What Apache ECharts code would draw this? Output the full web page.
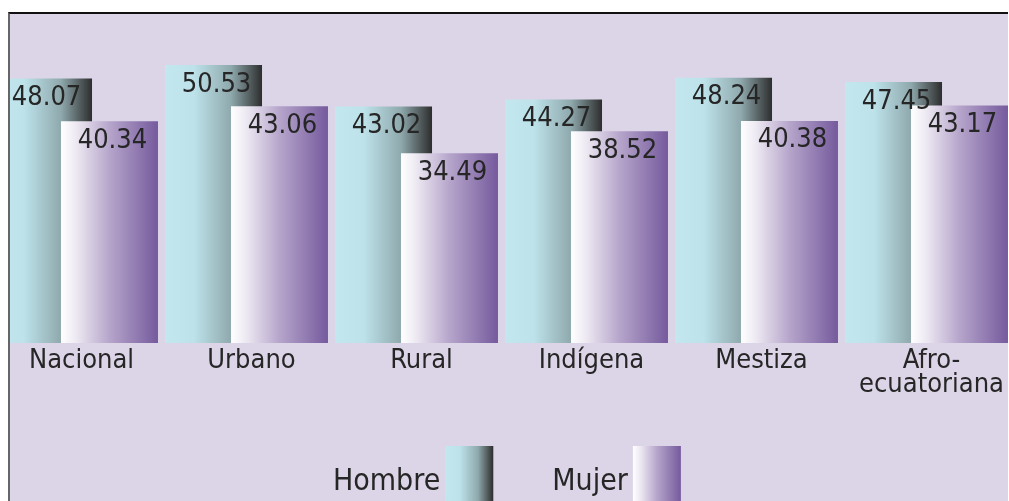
<!DOCTYPE html>
<html>
<head>
<meta charset="utf-8">
<script src="https://cdn.jsdelivr.net/npm/echarts@6/dist/echarts.min.js"></script>
<style>
  html, body { margin: 0; padding: 0; background: #fff; }
  #marco {
    position: absolute;
    left: 8px;
    top: 12px;
    width: 998px;
    height: 487px;
    border-left: 2px solid #666;
    border-top: 2px solid #111;
    background: #dcd4e7;
    overflow: hidden;
  }
  #chart {
    position: absolute;
    left: -19px;
    top: -1px;
    width: 1022px;
    height: 488px;
  }
</style>
</head>
<body>
<div id="marco"><div id="chart"></div></div>
<script>
// datos
const categorias = ['Nacional', 'Urbano', 'Rural', 'Indígena', 'Mestiza', 'Afro-\necuatoriana'];
const hombre = [48.07, 50.53, 43.02, 44.27, 48.24, 47.45];
const mujer = [40.34, 43.06, 34.49, 38.52, 40.38, 43.17];

const fuente = '"Liberation Sans Narrow", "DejaVu Sans Condensed", sans-serif';

const colorHombre = new echarts.graphic.LinearGradient(0, 0, 1, 0, [
  { offset: 0, color: '#c3e7ef' },
  { offset: 0.3, color: '#bde2ea' },
  { offset: 0.68, color: '#8fa9ad' },
  { offset: 1, color: '#2d2d2d' }
]);
const colorMujer = new echarts.graphic.LinearGradient(0, 0, 1, 0, [
  { offset: 0, color: '#ffffff' },
  { offset: 0.15, color: '#eeeaf3' },
  { offset: 0.5, color: '#b6a5cb' },
  { offset: 1, color: '#755a9d' }
]);

const etiqueta = {
  show: true,
  position: 'insideTop',
  distance: 6,
  offset: [3, 0],
  fontFamily: fuente,
  fontSize: 27,
  color: '#262626',
  formatter: p => p.value.toFixed(2)
};

const chart = echarts.init(document.getElementById('chart'));
chart.setOption({
  animation: false,
  backgroundColor: 'transparent',
  grid: {
    left: 0.5,
    right: 1.5,
    top: 0,
    bottom: 158
  },
  legend: {
    left: 337,
    top: 428,
    align: 'right',
    icon: 'rect',
    itemWidth: 48,
    itemHeight: 72,
    itemGap: 59,
    textStyle: {
      fontFamily: fuente,
      fontSize: 30,
      color: '#262626'
    },
    data: ['Hombre', 'Mujer']
  },
  xAxis: {
    type: 'category',
    data: categorias,
    axisLine: { show: false },
    axisTick: { show: false },
    axisLabel: {
      interval: 0,
      margin: 6,
      padding: [0, 0, 0, 10],
      fontFamily: fuente,
      fontSize: 27,
      lineHeight: 24,
      color: '#262626',
      verticalAlign: 'top'
    }
  },
  yAxis: {
    type: 'value',
    min: 0,
    max: 60,
    show: false,
    splitLine: { show: false }
  },
  series: [
    {
      name: 'Hombre',
      type: 'bar',
      data: hombre,
      barWidth: 97,
      barGap: '-32%',
      itemStyle: { color: colorHombre },
      label: etiqueta
    },
    {
      name: 'Mujer',
      type: 'bar',
      data: mujer,
      barWidth: 97,
      itemStyle: { color: colorMujer },
      label: etiqueta
    }
  ]
});
</script>
</body>
</html>
